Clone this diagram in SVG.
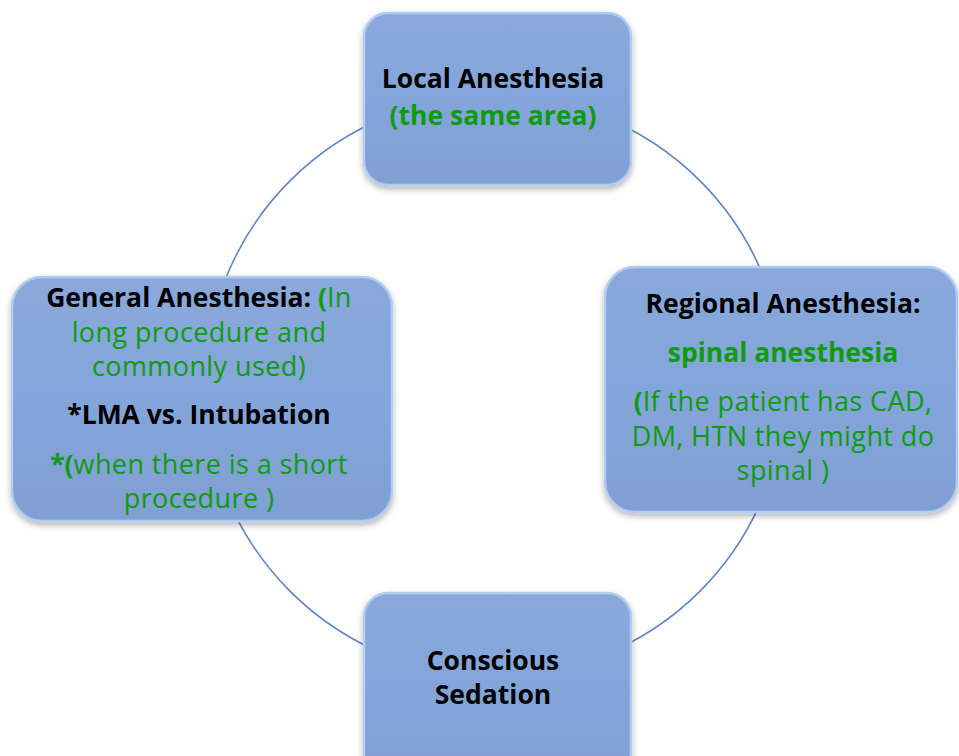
<svg xmlns="http://www.w3.org/2000/svg" width="959" height="756" viewBox="0 0 959 756">
<defs>
<linearGradient id="fillg" x1="0" y1="0" x2="0" y2="1">
<stop offset="0" stop-color="#89a9dc"/>
<stop offset="0.5" stop-color="#84a5d9"/>
<stop offset="1" stop-color="#80a0d4"/>
</linearGradient>
<filter id="sh" x="-10%" y="-10%" width="120%" height="125%">
<feDropShadow dx="0" dy="3" stdDeviation="3" flood-color="#000" flood-opacity="0.3"/>
</filter>
</defs>
<style>
.box{fill:url(#fillg);stroke:#b3cbef;stroke-width:2.5;filter:url(#sh)}
.conn{fill:none;stroke:#5f84c4;stroke-width:1.6}
text{font-family:"Open Sans","Noto Sans",sans-serif;font-size:27px;letter-spacing:0.4px;text-anchor:middle}
.b{font-weight:bold;fill:#000;font-size:26.5px;letter-spacing:0}
.g{fill:#0e9c0e}
.gb{fill:#0e9c0e;font-weight:bold;font-size:26.5px;letter-spacing:0}
</style>
<rect width="959" height="756" fill="#fff"/>
<g id="connectors">
<circle class="conn" cx="495" cy="386" r="290"/>
</g>
<g id="local">
<rect class="box" x="364" y="13" width="267" height="172" rx="24"/>
<text class="b" x="493" y="88">Local Anesthesia</text>
<text class="gb" x="493" y="125">(the same area)</text>
</g>
<g id="general">
<rect class="box" x="12" y="277" width="380" height="244" rx="30"/>
<text x="199" y="307"><tspan class="b">General Anesthesia: </tspan><tspan class="gb">(</tspan><tspan class="g">In</tspan></text>
<text class="g" x="199" y="342">long procedure and</text>
<text class="g" x="199" y="376">commonly used)</text>
<text class="b" x="199" y="424">*LMA vs. Intubation</text>
<text x="199" y="474"><tspan class="gb">*(</tspan><tspan class="g">when there is a short</tspan></text>
<text class="g" x="199" y="508">procedure )</text>
</g>
<g id="regional">
<rect class="box" x="605" y="267" width="352" height="245" rx="30"/>
<text class="b" x="783" y="313">Regional Anesthesia:</text>
<text class="gb" x="783" y="362">spinal anesthesia</text>
<text x="783" y="411"><tspan class="gb">(</tspan><tspan class="g">If the patient has CAD,</tspan></text>
<text class="g" x="783" y="446">DM, HTN they might do</text>
<text class="g" x="783" y="480">spinal )</text>
</g>
<g id="conscious">
<rect class="box" x="364" y="593" width="267" height="185" rx="24"/>
<text class="b" x="493" y="670">Conscious</text>
<text class="b" x="493" y="704">Sedation</text>
</g>
</svg>
